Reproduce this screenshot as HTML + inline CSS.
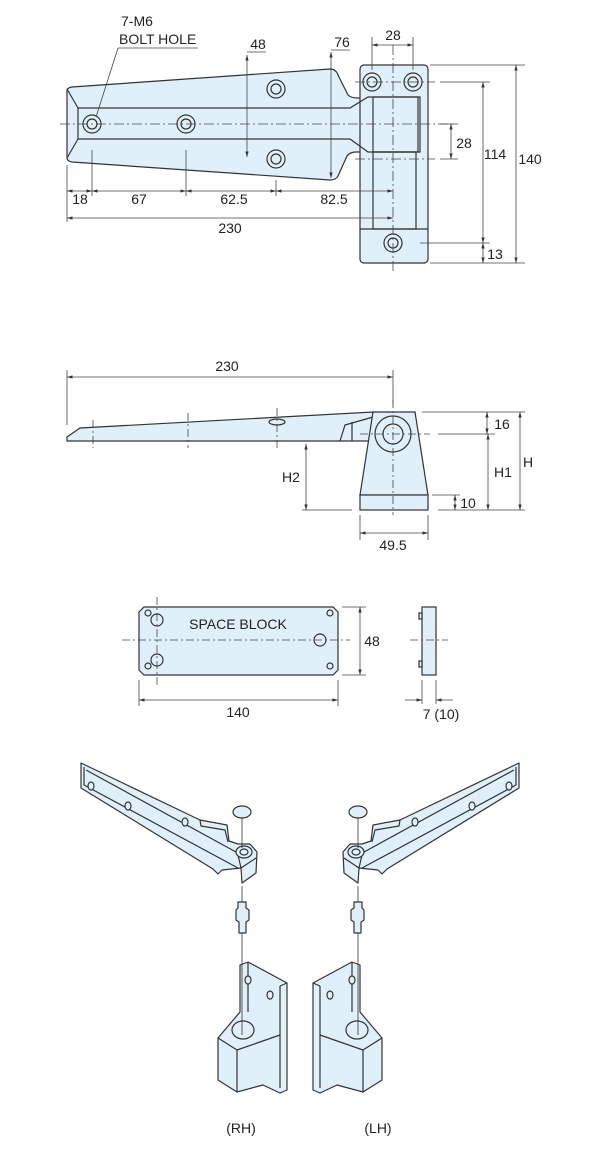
<!DOCTYPE html>
<html><head><meta charset="utf-8"><style>
html,body{margin:0;padding:0;background:#fff}
svg{display:block}
text{font-family:"Liberation Sans",sans-serif;font-size:14px;fill:#222}
</style></head><body>
<svg width="600" height="1149" viewBox="0 0 600 1149" xmlns="http://www.w3.org/2000/svg">
<defs>
<marker id="a" viewBox="0 0 10 10" refX="10" refY="5" markerWidth="7" markerHeight="7" orient="auto-start-reverse"><path d="M0,2 L10,5 L0,8 z" fill="#333"/></marker>
</defs>
<g stroke="#333" stroke-width="1.2" fill="#e0f0fb">
<path d="M67,90 Q67,88 72,87 L330,69 Q336,69 338,75 L348,95 Q351,98 358,98 L362,98 L362,152 L356,152 Q350,152 347,156 L338,176 Q336,180 330,180 L72,162 Q67,161 67,158 Z"/>
<rect x="360" y="65" width="68" height="198" rx="4"/>
<path d="M78,108 L350,108 L368,97 L420,97 L420,152 L368,152 L350,139 L78,139 Z" fill="none"/>
<line x1="67" y1="89" x2="78" y2="108"/><line x1="67" y1="158" x2="78" y2="139"/>
<rect x="373" y="97" width="45" height="55" fill="none"/>
<rect x="373" y="152" width="43" height="77" fill="none"/>
<line x1="360" y1="229" x2="428" y2="229"/>
<g fill="#e0f0fb">
<circle cx="92" cy="124" r="9"/><circle cx="92" cy="124" r="5"/>
<circle cx="186" cy="124" r="9"/><circle cx="186" cy="124" r="5"/>
<circle cx="276" cy="89" r="9"/><circle cx="276" cy="89" r="5"/>
<circle cx="276" cy="159" r="9"/><circle cx="276" cy="159" r="5"/>
<circle cx="372" cy="82" r="9"/><circle cx="372" cy="82" r="5"/>
<circle cx="413" cy="82" r="9"/><circle cx="413" cy="82" r="5"/>
<circle cx="393" cy="243" r="9"/><circle cx="393" cy="243" r="5"/>
</g>
</g>
<g stroke="#444" stroke-width="0.8" fill="none">
<g stroke-dasharray="10,3,2,3">
<line x1="60" y1="124" x2="455" y2="124"/>
<line x1="393" y1="45" x2="393" y2="272"/>
<line x1="355" y1="82" x2="435" y2="82"/>
<line x1="355" y1="159" x2="435" y2="159"/>
</g>
<line x1="372" y1="37" x2="372" y2="70"/><line x1="413" y1="37" x2="413" y2="70"/>
<line x1="372" y1="45" x2="413" y2="45" marker-start="url(#a)" marker-end="url(#a)"/>
<path d="M118,48 L198,48 M118,48 L96,117"/>
<line x1="247" y1="55" x2="247" y2="157" marker-start="url(#a)" marker-end="url(#a)"/><line x1="247" y1="52" x2="266" y2="52"/>
<line x1="331" y1="52" x2="331" y2="178" marker-start="url(#a)" marker-end="url(#a)"/><line x1="331" y1="50" x2="350" y2="50"/>
<line x1="430" y1="65" x2="525" y2="65"/><line x1="440" y1="82" x2="490" y2="82"/>
<line x1="420" y1="243" x2="490" y2="243"/><line x1="430" y1="263" x2="525" y2="263"/>
<line x1="440" y1="124" x2="458" y2="124"/><line x1="440" y1="159" x2="458" y2="159"/>
<line x1="451" y1="124" x2="451" y2="159" marker-start="url(#a)" marker-end="url(#a)"/>
<line x1="483" y1="82" x2="483" y2="243" marker-start="url(#a)" marker-end="url(#a)"/>
<line x1="483" y1="243" x2="483" y2="263" marker-start="url(#a)" marker-end="url(#a)"/>
<line x1="516" y1="65" x2="516" y2="263" marker-start="url(#a)" marker-end="url(#a)"/>
<line x1="67" y1="165" x2="67" y2="222"/><line x1="92" y1="150" x2="92" y2="196"/><line x1="186" y1="150" x2="186" y2="196"/><line x1="276" y1="180" x2="276" y2="196"/>
<line x1="67" y1="191" x2="92" y2="191" marker-start="url(#a)" marker-end="url(#a)"/>
<line x1="92" y1="191" x2="186" y2="191" marker-start="url(#a)" marker-end="url(#a)"/>
<line x1="186" y1="191" x2="276" y2="191" marker-start="url(#a)" marker-end="url(#a)"/>
<line x1="276" y1="191" x2="393" y2="191" marker-start="url(#a)" marker-end="url(#a)"/>
<line x1="67" y1="218" x2="393" y2="218" marker-start="url(#a)" marker-end="url(#a)"/>
</g>
<g text-anchor="middle">
<text x="121" y="26" text-anchor="start">7-M6</text>
<text x="119" y="44" text-anchor="start">BOLT HOLE</text>
<text x="393" y="40">28</text><text x="258" y="49">48</text><text x="342" y="47">76</text>
<text x="464" y="148">28</text><text x="495" y="159">114</text><text x="530" y="164">140</text><text x="495" y="259">13</text>
<text x="80" y="204">18</text><text x="139" y="204">67</text><text x="234" y="204">62.5</text><text x="334" y="204">82.5</text>
<text x="230" y="233">230</text>
</g>

<!-- SIDE VIEW -->
<g stroke="#333" stroke-width="1.2" fill="#e0f0fb">
<path d="M67,437 L80,428 L373,412 L373,441 L67,441 Z"/>
<path d="M340,441 L345,425 L373,417" fill="none"/><line x1="352" y1="422" x2="352" y2="441"/>
<path d="M373,412 L415,412 L428,495 L360,495 Z"/>
<rect x="360" y="495" width="68" height="15"/>
<circle cx="393" cy="434" r="18"/><circle cx="393" cy="434" r="10"/>
<ellipse cx="277" cy="422" rx="8" ry="3"/>
</g>
<g stroke="#444" stroke-width="0.8" fill="none">
<g stroke-dasharray="8,3,2,3">
<line x1="93" y1="420" x2="93" y2="448"/><line x1="188" y1="413" x2="188" y2="448"/><line x1="277" y1="408" x2="277" y2="448"/>
<line x1="360" y1="434" x2="430" y2="434"/><line x1="393" y1="400" x2="393" y2="515"/>
</g>
<line x1="67" y1="370" x2="67" y2="425"/><line x1="393" y1="370" x2="393" y2="405"/>
<line x1="67" y1="377" x2="393" y2="377" marker-start="url(#a)" marker-end="url(#a)"/>
<line x1="422" y1="412" x2="525" y2="412"/><line x1="438" y1="434" x2="495" y2="434"/>
<line x1="432" y1="495" x2="460" y2="495"/><line x1="438" y1="510" x2="525" y2="510"/>
<line x1="302" y1="510" x2="352" y2="510"/>
<line x1="487" y1="412" x2="487" y2="434" marker-start="url(#a)" marker-end="url(#a)"/>
<line x1="488" y1="434" x2="488" y2="510" marker-start="url(#a)" marker-end="url(#a)"/>
<line x1="520" y1="412" x2="520" y2="510" marker-start="url(#a)" marker-end="url(#a)"/>
<line x1="455" y1="495" x2="455" y2="510" marker-start="url(#a)" marker-end="url(#a)"/>
<line x1="306" y1="444" x2="306" y2="510" marker-start="url(#a)" marker-end="url(#a)"/>
<line x1="360" y1="515" x2="360" y2="540"/><line x1="428" y1="515" x2="428" y2="540"/>
<line x1="360" y1="533" x2="428" y2="533" marker-start="url(#a)" marker-end="url(#a)"/>
</g>
<g text-anchor="middle">
<text x="227" y="371">230</text><text x="502" y="429">16</text><text x="503" y="477">H1</text><text x="528" y="467">H</text>
<text x="468" y="508">10</text><text x="291" y="482">H2</text><text x="393" y="550">49.5</text>
</g>

<!-- SPACE BLOCK -->
<g stroke="#333" stroke-width="1.2" fill="#e0f0fb">
<path d="M144,607 L333,607 L338,612 L338,670 L333,675 L144,675 L139,670 L139,612 Z"/>
<circle cx="157" cy="620" r="6"/><circle cx="157" cy="660" r="6"/><circle cx="320" cy="640" r="6"/>
<circle cx="148" cy="613" r="3"/><circle cx="148" cy="666" r="3"/><circle cx="330" cy="613" r="3"/><circle cx="330" cy="666" r="3"/>
<rect x="422" y="607" width="14" height="68"/>
<rect x="419" y="613" width="3" height="6"/><rect x="419" y="661" width="3" height="6"/>
</g>
<g stroke="#444" stroke-width="0.8" fill="none">
<g stroke-dasharray="8,3,2,3">
<line x1="122" y1="640" x2="350" y2="640"/><line x1="157" y1="597" x2="157" y2="685"/>
<line x1="410" y1="640" x2="448" y2="640"/>
</g>
<line x1="342" y1="607" x2="366" y2="607"/><line x1="342" y1="675" x2="366" y2="675"/>
<line x1="360" y1="607" x2="360" y2="675" marker-start="url(#a)" marker-end="url(#a)"/>
<line x1="139" y1="680" x2="139" y2="706"/><line x1="338" y1="680" x2="338" y2="706"/>
<line x1="139" y1="700" x2="338" y2="700" marker-start="url(#a)" marker-end="url(#a)"/>
<line x1="422" y1="680" x2="422" y2="704"/><line x1="436" y1="680" x2="436" y2="704"/>
<line x1="405" y1="700" x2="422" y2="700" marker-end="url(#a)"/><line x1="453" y1="700" x2="436" y2="700" marker-end="url(#a)"/>
</g>
<text x="238" y="629" text-anchor="middle">SPACE BLOCK</text>
<text x="372" y="646" text-anchor="middle">48</text>
<text x="238" y="717" text-anchor="middle">140</text>
<text x="441" y="719" text-anchor="middle">7 (10)</text>

<!-- ISO RH -->
<g id="rh" stroke="#333" stroke-width="1.2" fill="#e0f0fb" stroke-linejoin="round">
<path d="M81,763 L200,820 L227,825 L229,841 L238,844 L250,844 L257,852 L256,873 L242,883 L241,868 L222,870 L218,874 L213,869 L81,788 Z"/>
<path d="M84,767 L84,785 L238,868 M86,770 L236,852 M200,820 L201,826 L225,830 L228,842" fill="none"/>
<path d="M238,855 L241,868 M241,868 L256,858" fill="none"/>
<ellipse cx="244" cy="852" rx="8" ry="6"/><ellipse cx="244" cy="852" rx="4" ry="3"/>
<ellipse cx="91" cy="786" rx="3" ry="4"/><ellipse cx="128" cy="806" rx="3" ry="4"/><ellipse cx="185" cy="822" rx="3" ry="4"/>
<ellipse cx="242" cy="812" rx="9" ry="6"/>
<path d="M238,902 L246,902 L246,908 L249,910 L249,920 L246,922 L246,933 L239,933 L239,922 L236,920 L236,910 L238,908 Z"/>
<path d="M240,965 L248,962 L287,983 L287,1090 L280,1093 L263,1085 L237,1092 L218,1080 L218,1038 L240,1012 Z"/>
<path d="M248,962 L248,1012 M280,986 L280,1088 M280,986 L287,983" fill="none"/>
<path d="M218,1038 L237,1050 L280,1035 M237,1050 L237,1092" fill="none"/>
<ellipse cx="243" cy="1030" rx="11" ry="9"/>
<ellipse cx="248" cy="980" rx="3" ry="4"/><ellipse cx="270" cy="995" rx="3" ry="4"/>
<path d="M242,818 L242,848 M242,886 L242,902 M242,933 L242,1035" fill="none" stroke-width="0.8"/>
</g>
<use href="#rh" transform="translate(600,0) scale(-1,1)"/>
<text x="241" y="1133" text-anchor="middle" font-size="15">(RH)</text>
<text x="378" y="1133" text-anchor="middle" font-size="15">(LH)</text>
</svg>
</body></html>
